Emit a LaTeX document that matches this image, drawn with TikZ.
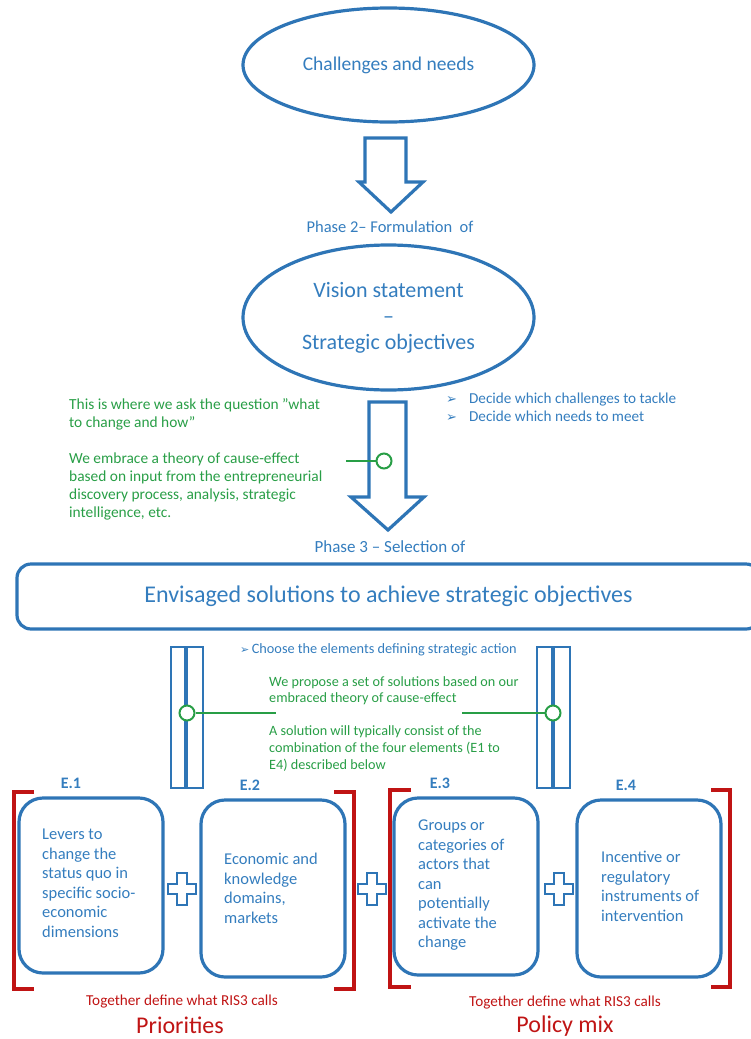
\documentclass[tikz,border=0pt]{standalone}
\usepackage{fontspec}
\setmainfont{Carlito}
\newfontfamily\dejavu{DejaVu Sans}
\usetikzlibrary{shapes.geometric,calc}
\definecolor{ublue}{RGB}{46,117,182}
\definecolor{tblue}{RGB}{52,125,190}
\definecolor{ugreen}{RGB}{40,158,70}
\definecolor{ured}{RGB}{192,20,20}
\tikzset{
  oval/.style={ellipse, draw=ublue, line width=3.2pt, text=tblue, inner sep=0pt, align=center},
  blockarrow/.style={draw=ublue, line width=3.2pt, fill=white, line join=miter},
  bar/.style={draw=ublue, line width=2.8pt},
  elbox/.style={draw=ublue, line width=3.2pt, rounded corners=24pt, minimum width=144pt, inner sep=0pt},
  boxtext/.style={text=tblue, font=\fontsize{16.5}{19.5}\selectfont, align=left, anchor=north west, inner sep=0pt},
  greentext/.style={text=ugreen, align=left, anchor=north west, inner sep=0pt},
  knob/.style={circle, draw=ugreen, line width=2pt, fill=white, minimum size=15pt, inner sep=0pt},
  gline/.style={draw=ugreen, line width=2.2pt},
  bracket/.style={draw=ured, line width=3.4pt, line join=miter},
  plussign/.style={draw=ublue, line width=2.8pt, fill=white, line join=miter},
  elabel/.style={text=tblue, font=\bfseries\fontsize{16}{18}\selectfont, inner sep=0pt},
  redtext/.style={text=ured, inner sep=0pt},
}
\begin{document}
\begin{tikzpicture}[x=1pt,y=-1pt]
\useasboundingbox (0,0) rectangle (750,1039);

% ellipses
\node[oval, minimum width=291pt, minimum height=114pt, font=\fontsize{19.5}{22}\selectfont] (chal) at (388.5,65) {Challenges and needs};
\node[oval, minimum width=291pt, minimum height=145pt, font=\fontsize{22}{26}\selectfont] (vis) at (388.5,317.5) {Vision statement\\--\\Strategic objectives};

% block arrow 1
\coordinate (a1) at (391,212);
\draw[blockarrow] (365,138) -- (406,138) -- (406,182) -- (423,182) -- (a1) -- (359,182) -- (365,182) -- cycle;
\node[text=tblue, font=\fontsize{16.5}{18}\selectfont, inner sep=0pt] (ph2) at (390,227) {Phase 2-- Formulation\ \ of};

% block arrow 2
\coordinate (a2) at (388,530);
\draw[blockarrow] (369,402) -- (406,402) -- (406,497) -- (424,497) -- (a2) -- (351,497) -- (369,497) -- cycle;
\node[knob] (k1) at (384,461) {};
\coordinate (g1) at (346,461);
\draw[gline] (g1) -- (k1);

\node[greentext, font=\fontsize{15.4}{18}\selectfont] (gt1) at (69,398) {This is where we ask the question ”what\\to change and how”};
\node[greentext, font=\fontsize{15.4}{18}\selectfont] (gt2) at (69,453) {We embrace a theory of cause-effect\\based on input from the entrepreneurial\\discovery process, analysis, strategic\\intelligence, etc.};

\node[text=tblue, font=\fontsize{15.2}{18}\selectfont, align=left, anchor=north west, inner sep=0pt] (dec) at (446,393) {{\dejavu\fontsize{13}{18}\selectfont ➢}\hspace{12pt}Decide which challenges to tackle\\{\dejavu\fontsize{13}{18}\selectfont ➢}\hspace{12pt}Decide which needs to meet};

\node[text=tblue, font=\fontsize{17}{18}\selectfont, inner sep=0pt] (ph3) at (390,547) {Phase 3 -- Selection of};

% big rounded rect
\node[draw=ublue, line width=3.2pt, rounded corners=14pt, minimum width=743pt, minimum height=65pt, text=tblue, font=\fontsize{24}{28}\selectfont] (sol) at (388.5,596.5) {Envisaged solutions to achieve strategic objectives};

% bars
\draw[bar] (171,647) rectangle (185,788);
\draw[bar] (187,647) rectangle (203,788);
\draw[bar] (537,647) rectangle (552,788);
\draw[bar] (554,647) rectangle (570,788);

\node[text=tblue, font=\fontsize{14.3}{16}\selectfont, anchor=west, inner sep=0pt] (choose) at (240,650) {{\dejavu\fontsize{11}{16}\selectfont ➢}\,Choose the elements defining strategic action};

\node[knob] (k2) at (187,713) {};
\node[knob] (k3) at (553,713) {};
\coordinate (g2) at (276,713);
\coordinate (g3) at (462,713);
\draw[gline] (k2) -- (g2);
\draw[gline] (g3) -- (k3);

\node[greentext, font=\fontsize{14.2}{16.5}\selectfont] (gt3) at (269,676) {We propose a set of solutions based on our\\embraced theory of cause-effect};
\node[greentext, font=\fontsize{14.2}{17}\selectfont] (gt4) at (269,725) {A solution will typically consist of the\\combination of the four elements (E1 to\\E4) described below};

% brackets
\draw[bracket] (34,792) -- (14,792) -- (14,989) -- (34,989);
\draw[bracket] (334,792) -- (354,792) -- (354,989) -- (334,989);
\draw[bracket] (411,790) -- (390,790) -- (390,987) -- (411,987);
\draw[bracket] (711,790) -- (730,790) -- (730,987) -- (711,987);

% element boxes
\node[elbox, minimum height=175pt] (b1) at (91,885.5) {};
\node[elbox, minimum height=177pt] (b2) at (273,888.5) {};
\node[elbox, minimum height=177pt] (b3) at (466,886.5) {};
\node[elbox, minimum height=177pt] (b4) at (649,888.5) {};

\node[elabel] (e1) at (71,783) {E.1};
\node[elabel] (e2) at (250,785) {E.2};
\node[elabel] (e3) at (440,783) {E.3};
\node[elabel] (e4) at (626,785) {E.4};

\node[boxtext] (t1) at (42,829) {Levers to\\change the\\status quo in\\specific socio-\\economic\\dimensions};
\node[boxtext] (t2) at (224,853) {Economic and\\knowledge\\domains,\\markets};
\node[boxtext] (t3) at (418,820) {Groups or\\categories of\\actors that\\can\\potentially\\activate the\\change};
\node[boxtext] (t4) at (601,851) {Incentive or\\regulatory\\instruments of\\intervention};

% plus signs
\foreach \cx/\cy/\nm in {182/889/p1, 372/889/p2, 559/889/p3}{
  \coordinate (\nm) at (\cx,\cy);
  \draw[plussign] ($(\nm)+(-5,-16)$) -- ($(\nm)+(5,-16)$) -- ($(\nm)+(5,-5)$) -- ($(\nm)+(14,-5)$) -- ($(\nm)+(14,5)$) -- ($(\nm)+(5,5)$) -- ($(\nm)+(5,16)$) -- ($(\nm)+(-5,16)$) -- ($(\nm)+(-5,5)$) -- ($(\nm)+(-14,5)$) -- ($(\nm)+(-14,-5)$) -- ($(\nm)+(-5,-5)$) -- cycle;
}

% red captions
\node[redtext, font=\fontsize{15.2}{17}\selectfont] (r1) at (182,1002) {Together define what RIS3 calls};
\node[redtext, font=\fontsize{24}{26}\selectfont] (r2) at (180,1025) {Priorities};
\node[redtext, font=\fontsize{15.2}{17}\selectfont] (r3) at (565,1003) {Together define what RIS3 calls};
\node[redtext, font=\fontsize{24}{26}\selectfont] (r4) at (565,1026) {Policy mix};
\end{tikzpicture}
\end{document}
